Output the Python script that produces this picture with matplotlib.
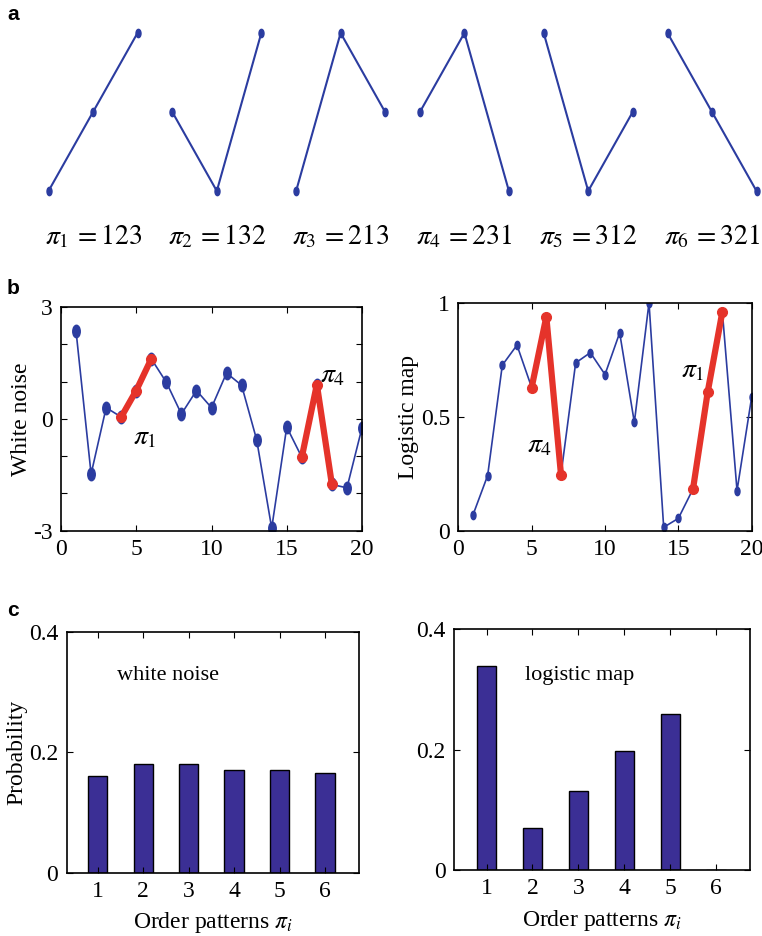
import numpy as np
import matplotlib
matplotlib.use('Agg')
from matplotlib import pyplot as plt
from matplotlib.path import Path
from matplotlib.transforms import Affine2D
from matplotlib.ticker import FixedLocator, FixedFormatter

plt.rcParams['font.family'] = ['Liberation Serif', 'DejaVu Serif']
plt.rcParams['mathtext.fontset'] = 'stix'
plt.rcParams['font.size'] = 17

# ordinal patterns of order 3
pattern_labels = ['123', '132', '213', '231', '312', '321']
pattern_heights = [[1, 2, 3], [2, 1, 3], [1, 3, 2], [2, 3, 1], [3, 1, 2], [3, 2, 1]]

# time series
t = np.arange(1, 21)
white_noise = [2.35, -1.48, 0.30, 0.05, 0.76, 1.61, 0.98, 0.13, 0.76, 0.30,
               1.23, 0.90, -0.56, -2.93, -0.22, -1.03, 0.92, -1.76, -1.85, -0.24]
logistic = [0.069, 0.242, 0.726, 0.814, 0.628, 0.938, 0.246, 0.736, 0.781, 0.685,
            0.868, 0.475, 1.0, 0.015, 0.054, 0.183, 0.608, 0.960, 0.176, 0.587]
wn_segments = [(4, 6), (16, 18)]
lg_segments = [(5, 7), (16, 18)]
wn_seg_names = [r'$\pi_1$', r'$\pi_4$']
lg_seg_names = [r'$\pi_4$', r'$\pi_1$']

# pattern probabilities
patterns = np.arange(1, 7)
wn_prob = [0.160, 0.180, 0.180, 0.170, 0.170, 0.166]
lg_prob = [0.339, 0.070, 0.132, 0.198, 0.260, 0.0]

BLUE = '#2b3ca0'
RED = '#e5332a'
BAR = '#3b2f95'

# small vertical ellipse used as point marker
dot = Path.unit_circle().transformed(Affine2D().scale(0.6, 1.0))

W, H = 762, 936
fig = plt.figure(figsize=(W / 100, H / 100), dpi=100)


def px_axes(x0, y0, x1, y1):
    return fig.add_axes([x0 / W, 1 - y1 / H, (x1 - x0) / W, (y1 - y0) / H])


def style_box(ax):
    ax.tick_params(direction='in', top=True, right=True, length=4, width=0.8,
                   labelsize=17, pad=6)
    for s in ax.spines.values():
        s.set_linewidth(1.2)


# ---- a: the six patterns
ax_a = px_axes(30, 20, 762, 250)
ax_a.set_xlim(0, (762 - 30) / 44.5)
ax_a.set_ylim(1 + (191 - 250) / 79, 1 + (191 - 20) / 79)
ax_a.axis('off')
for k, (lab, h) in enumerate(zip(pattern_labels, pattern_heights)):
    mid = 1.416 + 2.782 * k
    xs = [mid - 1, mid, mid + 1]
    ax_a.plot(xs, h, color=BLUE, lw=1.5, marker=dot, ms=6, mfc=BLUE, mec=BLUE)
    ax_a.text(mid, 0.42, r'$\pi_{%d}\, = %s$' % (k + 1, lab), ha='center',
              va='center', fontsize=20)


def series_panel(ax, y, segs, names, name_pos, ms):
    ax.plot(t, y, color=BLUE, lw=1.2, marker=dot, ms=ms, mfc=BLUE, mec=BLUE)
    yy = np.asarray(y)
    for (a, b) in segs:
        ax.plot(t[a - 1:b], yy[a - 1:b], color=RED, lw=4.5, marker='o', ms=7,
                mfc=RED, mec=RED, solid_capstyle='round')
    for nm, (x, yv) in zip(names, name_pos):
        ax.text(x, yv, nm, ha='left', va='center', fontsize=20)
    ax.set_xlim(0, 20)
    ax.set_xticks([0, 5, 10, 15, 20])
    style_box(ax)


# ---- b: white noise
ax_b1 = px_axes(61, 307, 362, 530.7)
series_panel(ax_b1, white_noise, wn_segments, wn_seg_names,
             [(4.8, -0.5), (17.2, 1.16)], 9)
ax_b1.set_ylim(-3, 3)
ax_b1.yaxis.set_major_locator(FixedLocator([-3, -2, -1, 0, 1, 2, 3]))
ax_b1.yaxis.set_major_formatter(FixedFormatter(['-3', '', '', '0', '', '', '3']))
ax_b1.set_ylabel('White noise', fontsize=17, labelpad=1)

# ---- b: logistic map
ax_b2 = px_axes(458.3, 302.7, 751.7, 530.7)
series_panel(ax_b2, logistic, lg_segments, lg_seg_names,
             [(4.66, 0.37), (15.2, 0.70)], 6)
ax_b2.set_ylim(0, 1)
ax_b2.set_yticks([0, 0.5, 1])
ax_b2.set_yticklabels(['0', '0.5', '1'])
ax_b2.set_ylabel('Logistic map', fontsize=17, labelpad=1)


def prob_panel(ax, p, label, label_pos, xlim):
    ax.bar(patterns, p, width=0.42, color=BAR, edgecolor='black', linewidth=1)
    ax.set_xlim(*xlim)
    ax.set_ylim(0, 0.4)
    ax.set_xticks(patterns)
    ax.set_yticks([0, 0.2, 0.4])
    ax.set_yticklabels(['0', '0.2', '0.4'])
    ax.text(label_pos[0], label_pos[1], label, ha='left', va='center', fontsize=16)
    ax.set_xlabel(r'Order patterns $\pi_i$', fontsize=17, labelpad=6)
    style_box(ax)


# ---- c: pattern probabilities
ax_c1 = px_axes(66.7, 631.7, 359.3, 872.7)
prob_panel(ax_c1, wn_prob, 'white noise', (1.42, 0.328), (0.32, 6.755))
ax_c1.set_ylabel('Probability', fontsize=17, labelpad=1)

ax_c2 = px_axes(454, 629.3, 750, 870)
prob_panel(ax_c2, lg_prob, 'logistic map', (1.84, 0.324), (0.29, 6.74))

# panel letters
for letter, (x, y) in zip('abc', [(7, 14), (7, 289), (7, 611)]):
    fig.text(x / W, 1 - y / H, letter, fontfamily='Liberation Sans',
             fontweight='bold', fontsize=15, ha='left', va='center')

fig.savefig('out.png', dpi=100)
